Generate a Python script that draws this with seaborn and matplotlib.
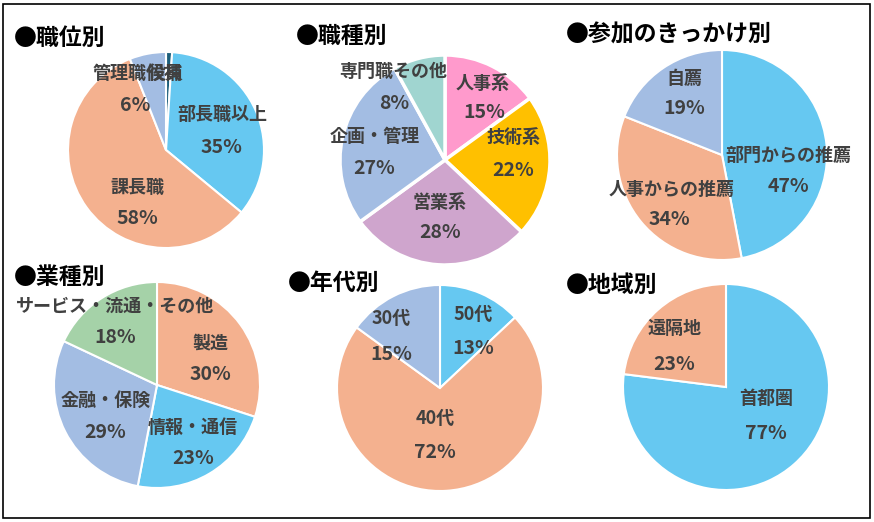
import matplotlib
matplotlib.use("Agg")
import matplotlib.pyplot as plt
from matplotlib.patches import Rectangle
import seaborn as sns

sns.set_theme(style="white")
plt.rcParams['font.family'] = ['Noto Sans CJK JP', 'DejaVu Sans']

# data
pos_labels = ["役員", "部長職以上", "課長職", "管理職候補"]
pos_values = [1, 35, 58, 6]

job_labels = ["人事系", "技術系", "営業系", "企画・管理", "専門職その他"]
job_values = [15, 22, 28, 27, 8]

trig_labels = ["部門からの推薦", "人事からの推薦", "自薦"]
trig_values = [47, 34, 19]

ind_labels = ["製造", "情報・通信", "金融・保険", "サービス・流通・その他"]
ind_values = [30, 23, 29, 18]

age_labels = ["50代", "40代", "30代"]
age_values = [13, 72, 15]

reg_labels = ["首都圏", "遠隔地"]
reg_values = [77, 23]

# colours
BLUE = "#66C8F1"
SALMON = "#F4B18F"
PERI = "#A3BDE3"
PINK = "#FF9ACC"
GOLD = "#FFC000"
LILAC = "#CFA5CD"
MINT = "#A0D5D0"
GREEN = "#A5D2A8"
DARK = "#1B5E7A"
TXT = "#404040"

W, H = 874, 522
fig = plt.figure(figsize=(W / 100, H / 100), dpi=100)


def pie_panel(title, title_xy, center, r, labels, values, colors, label_pos,
              edge=1.5, show_pct=None):
    cx, cy = center
    ax = fig.add_axes([(cx - r) / W, (H - cy - r) / H, 2 * r / W, 2 * r / H])
    ax.pie(values, colors=colors, startangle=90, counterclock=False, radius=1,
           wedgeprops=dict(edgecolor="white", linewidth=edge))
    ax.set_xlim(-1, 1)
    ax.set_ylim(-1, 1)
    ax.set_aspect("equal")
    ax.axis("off")
    for i, (lab, val) in enumerate(zip(labels, values)):
        (nx, ny), (px, py) = label_pos[i]
        ax.text(nx, ny, lab, ha="center", va="center", fontsize=13,
                fontweight="bold", color=TXT)
        if show_pct is None or show_pct[i]:
            ax.text(px, py, f"{val}%", ha="center", va="center", fontsize=14,
                    fontweight="bold", color=TXT)
    fig.text(title_xy[0] / W, 1 - title_xy[1] / H, "●" + title, ha="left",
             va="center", fontsize=16.5, fontweight="bold", color="black")


pie_panel("職位別", (14, 38), (166, 150), 98, pos_labels, pos_values,
          [DARK, BLUE, SALMON, PERI],
          [((0.0, 0.78), (0, 0)), ((0.58, 0.36), (0.57, 0.03)),
           ((-0.29, -0.38), (-0.29, -0.70)), ((-0.29, 0.78), (-0.31, 0.45))],
          show_pct=[False, True, True, True])

pie_panel("職種別", (296, 36), (445, 160), 105, job_labels, job_values,
          [PINK, GOLD, LILAC, PERI, MINT],
          [((0.36, 0.73), (0.37, 0.45)), ((0.65, 0.21), (0.65, -0.10)),
           ((-0.05, -0.40), (-0.05, -0.69)), ((-0.67, 0.22), (-0.67, -0.08)),
           ((-0.49, 0.84), (-0.48, 0.54))], edge=2.5)

pie_panel("参加のきっかけ別", (566, 35), (722, 155), 105, trig_labels,
          trig_values, [BLUE, SALMON, PERI],
          [((0.63, 0.0), (0.63, -0.30)), ((-0.48, -0.33), (-0.50, -0.61)),
           ((-0.36, 0.73), (-0.36, 0.44))])

pie_panel("業種別", (14, 277), (157, 385), 103, ind_labels, ind_values,
          [SALMON, BLUE, PERI, GREEN],
          [((0.52, 0.41), (0.52, 0.10)), ((0.35, -0.41), (0.35, -0.71)),
           ((-0.50, -0.15), (-0.50, -0.46)), ((-0.41, 0.76), (-0.41, 0.46))])

pie_panel("年代別", (288, 283), (440, 388), 103, age_labels, age_values,
          [BLUE, SALMON, PERI],
          [((0.32, 0.71), (0.32, 0.38)), ((-0.05, -0.30), (-0.05, -0.63)),
           ((-0.47, 0.67), (-0.47, 0.33))])

pie_panel("地域別", (566, 285), (726, 387), 103, reg_labels, reg_values,
          [BLUE, SALMON],
          [((0.39, -0.11), (0.39, -0.45)), ((-0.50, 0.57), (-0.50, 0.22))])

# outer frame
fig.patches.append(Rectangle((2.5 / W, 4.5 / H), 867 / W, 514 / H,
                             transform=fig.transFigure, fill=False,
                             edgecolor="black", linewidth=1.2))

fig.savefig("out.png", dpi=100)
